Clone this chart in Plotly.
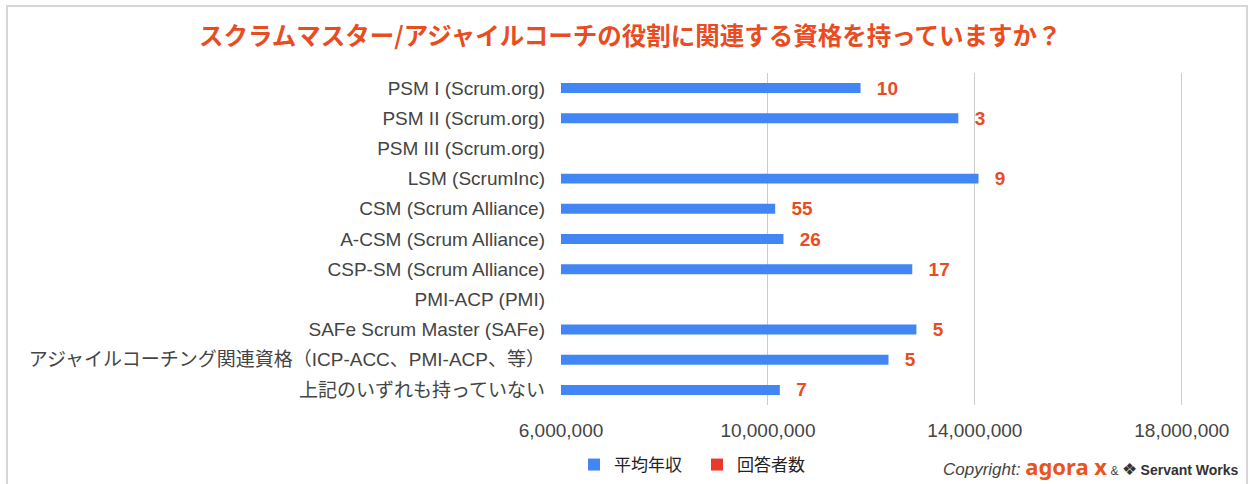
import plotly.graph_objects as go

# ---- data ----
categories = [
    "PSM I (Scrum.org)",
    "PSM II (Scrum.org)",
    "PSM III (Scrum.org)",
    "LSM (ScrumInc)",
    "CSM (Scrum Alliance)",
    "A-CSM (Scrum Alliance)",
    "CSP-SM (Scrum Alliance)",
    "PMI-ACP (PMI)",
    "SAFe Scrum Master (SAFe)",
    "アジャイルコーチング関連資格（ICP-ACC、PMI-ACP、等）",
    "上記のいずれも持っていない",
]
avg_salary = [11790000, 13680000, None, 14070000, 10140000, 10300000,
              12790000, None, 12870000, 12330000, 10230000]
respondents = [10, 3, None, 9, 55, 26, 17, None, 5, 5, 7]
x_ticks = [6000000, 10000000, 14000000, 18000000]
x_max = 18100000

title_text = "スクラムマスター/アジャイルコーチの役割に関連する資格を持っていますか？"
series_names = ["平均年収", "回答者数"]

BLUE = "#4285f4"
RED = "#e8392b"
ORANGE = "#e94d1f"

W, H = 1253, 484
ML, MT, MB = 561, 73, H - 405
PX_PER_UNIT = (1182 - 561) / (x_ticks[-1] - x_ticks[0])
MR = W - round(ML + (x_max - x_ticks[0]) * PX_PER_UNIT)
PW, PH = W - ML - MR, H - MT - MB


def px2x(px):
    return (px - ML) / PW


def py2y(py):
    return (H - MB - py) / PH


labels = ["" if v is None else "\u2002\u2009" + str(v) for v in respondents]

fig = go.Figure()
fig.add_trace(go.Bar(
    y=categories, x=avg_salary, orientation="h", name=series_names[0],
    marker=dict(color=BLUE, line=dict(width=0)),
    text=labels, textposition="outside", constraintext="none",
    cliponaxis=False,
    textfont=dict(family="Liberation Sans, Arial, sans-serif", size=19,
                  color=ORANGE, weight="bold"),
    hoverinfo="x+y",
))
# respondent counts live on the same value axis (far below its 6,000,000 start),
# so like the original only their legend entry is visible
fig.add_trace(go.Bar(
    y=categories, x=respondents, orientation="h", name=series_names[1],
    marker=dict(color=RED, line=dict(width=0)),
))

fig.update_layout(
    width=W, height=H,
    margin=dict(l=ML, r=MR, t=MT, b=MB, pad=0, autoexpand=False),
    paper_bgcolor="white", plot_bgcolor="white",
    barmode="overlay", bargap=0.67,
    title=dict(text="<b>" + title_text + "</b>", x=0.503, xref="container",
               xanchor="center", y=1 - 36 / H, yref="container", yanchor="middle",
               font=dict(family="Noto Sans CJK JP", size=24.5, color=ORANGE)),
    font=dict(family="Liberation Sans, Noto Sans CJK JP, sans-serif", color="#444"),
    showlegend=True,
    legend=dict(orientation="h", x=px2x(574), xanchor="left",
                y=(H - 465) / H, yref="container", yanchor="middle",
                font=dict(family="Noto Sans CJK JP", size=17, color="#222"),
                itemwidth=30, entrywidth=78, traceorder="normal",
                bgcolor="rgba(0,0,0,0)"),
)

fig.update_xaxes(
    range=[x_ticks[0], x_max], tickvals=x_ticks,
    ticktext=[f"{v:,}" for v in x_ticks],
    showgrid=True, gridcolor="#cccccc", gridwidth=1,
    zeroline=False, showline=False, ticks="",
    tickfont=dict(family="Liberation Sans, Arial, sans-serif", size=19, color="#444"),
    ticklabelstandoff=12, fixedrange=True, automargin=False,
)
fig.update_yaxes(
    autorange="reversed", showgrid=False, zeroline=False,
    showline=False, ticks="",
    tickfont=dict(family="Liberation Sans, Noto Sans CJK JP, sans-serif", size=19, color="#444"),
    ticklabelstandoff=15, fixedrange=True, automargin=False,
)

# outer card border
fig.add_shape(type="rect", xref="paper", yref="paper",
              x0=px2x(7), x1=px2x(1247), y0=py2y(500), y1=py2y(6),
              line=dict(color="#d6d6d6", width=2), fillcolor="rgba(0,0,0,0)",
              layer="below")

# copyright line
fig.add_annotation(
    xref="paper", yref="paper", x=px2x(1241), y=py2y(466),
    xanchor="right", yanchor="middle", showarrow=False,
    text=("<i><span style='font-size:17px;color:#444'>Copyright: </span></i>"
          "<b><span style='font-size:22px;color:#ea5420;font-family:Noto Sans'>agora x</span></b>"
          "<span style='font-size:12px;color:#444'> &amp; </span>"
          "<span style='font-size:17px;color:#333'>❖</span>"
          "<b><span style='font-size:14px;color:#333'> Servant Works</span></b>"),
    font=dict(family="Liberation Sans, Arial, sans-serif"),
)

fig.write_html("out.html", config={"displayModeBar": False},
               post_script="document.body.style.margin='0';document.body.style.overflow='hidden';")
